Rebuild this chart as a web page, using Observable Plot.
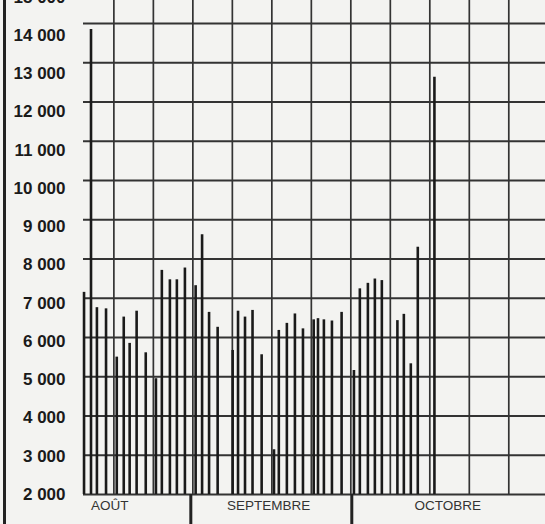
<!DOCTYPE html>
<html>
<head>
<meta charset="utf-8">
<script src="https://cdn.jsdelivr.net/npm/d3@7"></script>
<script src="https://cdn.jsdelivr.net/npm/@observablehq/plot@0.6"></script>
<style>
  html, body { margin: 0; padding: 0; background: #f3f3f1; overflow: hidden; }
  #wrap { position: relative; width: 545px; height: 524px; }
  #edge { position: absolute; left: 3px; top: 0; width: 3px; height: 524px; background: #222; }
</style>
</head>
<body>
<div id="wrap"><div id="edge"></div></div>
<script>
// Position of each bar, in days counted from 1 August (1 Sept = 31, 1 Oct = 61)
const dayPos = [
  11.1, 12.4, 13.5, 15.2, 17.2, 18.5, 19.6, 20.9, 22.6, 24.5, 25.6, 27.1, 28.4, 29.9,
  31.9, 33.1, 34.4, 36.0, 38.8, 39.8, 41.1, 42.5, 44.2, 46.5, 47.4, 48.9, 50.4, 51.9, 53.9, 54.7, 55.8, 57.3, 59.1,
  61.4, 62.5, 64.0, 65.3, 66.6, 69.5, 70.7, 72.0, 73.3, 76.4
];
// Daily values
const values = [
  7150, 13850, 6760, 6730, 5500, 6520, 5850, 6670, 5610, 4950, 7710, 7470, 7470, 7770,
  7320, 8620, 6640, 6260, 5670, 6670, 6520, 6690, 5560, 3140, 6180, 6360, 6600, 6220, 6450, 6480, 6450, 6420, 6640,
  5160, 7240, 7380, 7490, 7450, 6430, 6590, 5330, 8300, 12630
];
const yTicks = [2000, 3000, 4000, 5000, 6000, 7000, 8000, 9000, 10000, 11000, 12000, 13000, 14000, 15000];
const monthStarts = [31, 61];
const monthNames = ["AOÛT", "SEPTEMBRE", "OCTOBRE"];
const monthLabelPos = [15.9, 45.5, 78.9];

const bars = dayPos.map((d, i) => ({day: d, value: values[i]}));
const xGrid = d3.range(16.66, 98, 7.36);
const fmt = v => d3.format(",")(v).replace(/,/g, " ");

const chart = Plot.plot({
  width: 545,
  height: 524,
  marginLeft: 83,
  marginRight: 0,
  marginTop: 0,
  marginBottom: 30,
  x: {domain: [11, 97.1], axis: null},
  y: {domain: [2000, 14586], axis: null},
  style: {background: "transparent", fontFamily: "'Liberation Sans', Arial, sans-serif", overflow: "hidden"},
  marks: [
    Plot.gridX(xGrid, {stroke: "#333", strokeOpacity: 1, strokeWidth: 1.7}),
    Plot.gridY(yTicks, {stroke: "#333", strokeOpacity: 1, strokeWidth: 1.9}),
    Plot.ruleX(bars, {x: "day", y1: 2000, y2: "value", stroke: "#1a1a1a", strokeWidth: 2.6}),
    Plot.axisX(monthStarts, {anchor: "bottom", tickSize: 30, text: null, label: null, stroke: "#222", strokeWidth: 3}),
    Plot.text(monthNames, {x: (d, i) => monthLabelPos[i], frameAnchor: "bottom", dy: 15, fontSize: 13.5, fill: "#333"}),
    ...yTicks.map(v => Plot.text([v], {
      y: d => d, frameAnchor: "left", dx: -18, dy: (v - 2000) / 1000,
      textAnchor: "end", text: fmt, fontSize: 17, fontWeight: "bold", fill: "#1a1a1a"
    }))
  ]
});
document.getElementById("wrap").appendChild(chart);
</script>
</body>
</html>
